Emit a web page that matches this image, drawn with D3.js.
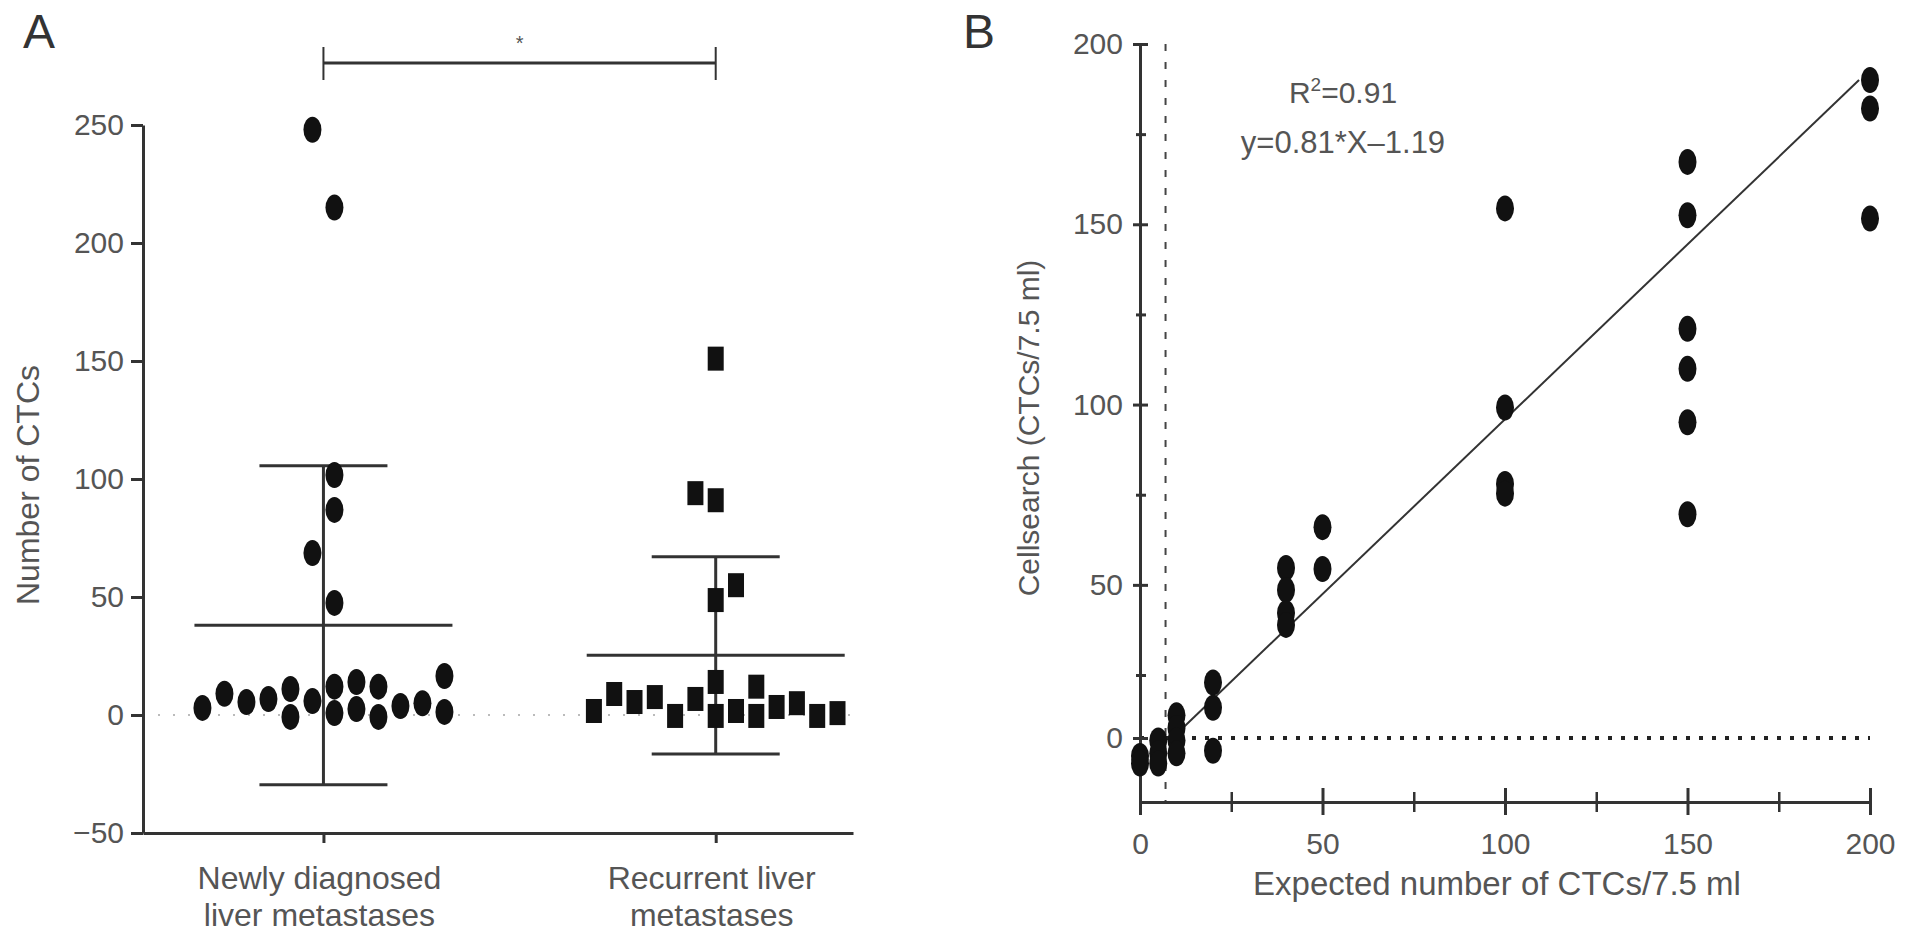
<!DOCTYPE html>
<html>
<head>
<meta charset="utf-8">
<script src="https://cdn.jsdelivr.net/npm/d3@7"></script>
<style>
body { margin: 0; background: #fff; }
text { font-family: "Liberation Sans", Arial, sans-serif; }
</style>
</head>
<body>
<script>
// ---- panel A data ----
let groupLines = [["Newly diagnosed", "liver metastases"], ["Recurrent liver", "metastases"]];
let newlyCTC = [3, 9, 5.5, 6.8, 11, -0.8, 5.9, 68.6, 248, 12, 0.8, 101.7, 86.9, 47.5, 215, 14, 2.5, 12, -0.8, 3.8, 5, 16.5, 1.3];
let newlyColumn = [0, 1, 2, 3, 4, 4, 5, 5, 5, 6, 6, 6, 6, 6, 6, 7, 7, 8, 8, 9, 10, 11, 11];
let recurrentCTC = [1.7, 8.9, 5.5, 7.6, -0.4, 6.8, 94, 14, -0.4, 151, 91, 48.7, 1.7, 55, 12, -0.4, 3.4, 5, -0.4, 0.8];
let recurrentColumn = [0, 1, 2, 3, 4, 5, 5, 6, 6, 6, 6, 6, 7, 7, 8, 8, 9, 10, 11, 12];
let yTicksA = [-50, 0, 50, 100, 150, 200, 250];

// ---- panel B data ----
let expectedCTC = [0, 0, 5, 5, 5, 10, 10, 10, 10, 20, 20, 20, 40, 40, 40, 40, 50, 50,
   100, 100, 100, 100, 150, 150, 150, 150, 150, 150, 200, 200, 200];
let cellsearchCTC = [-7, -10, -1, -6, -10, 9, 4, -1, -6, 22, 12, -5, 54.7, 48.6, 42.2, 38.9, 66, 54.4,
   154.4, 99.2, 78, 75.3, 167.3, 152.5, 121, 109.9, 95.1, 69.6, 190, 182.1, 151.6];
let fitX = [11, 197];
let fitY = [3, 190];
let cutoffX = 7;
let xTicksB = [0, 50, 100, 150, 200];
let xMinorB = [25, 75, 125, 175];
let yTicksB = [0, 50, 100, 150, 200];
let yMinorB = [25, 75, 125, 175];

let ink = "#333", labelInk = "#555";

let svg = d3.select("body").append("svg")
   .attr("width", 1913).attr("height", 940);

function styleAxis(g, w) {
   g.attr("font-size", 30).attr("font-family", null);
   g.select(".domain").attr("stroke", ink).attr("stroke-width", w);
   g.selectAll(".tick line").attr("stroke", ink).attr("stroke-width", w);
   g.selectAll(".tick text").attr("fill", labelInk);
}

// ================= panel A =================
let xA = d3.scaleLinear().domain([-0.46, 1.35]).range([143, 853]);
let yA = d3.scaleLinear().domain([-50, 250]).range([833, 125]);

svg.append("text").text("A").attr("x", 23).attr("y", 48)
   .attr("font-size", 48).attr("fill", ink);

// zero reference line
svg.append("line")
   .attr("x1", xA.range()[0]).attr("x2", xA.range()[1])
   .attr("y1", yA(0)).attr("y2", yA(0))
   .attr("stroke", "#bbb").attr("stroke-width", 2).attr("stroke-dasharray", "2,13");

svg.append("g").attr("transform", "translate(143,0)")
   .call(d3.axisLeft(yA).tickValues(yTicksA).tickSize(12).tickPadding(7).tickSizeOuter(0))
   .call(g => styleAxis(g, 3));

svg.append("g").attr("transform", "translate(0,833)")
   .call(d3.axisBottom(xA).tickValues([0, 1]).tickFormat("").tickSize(10).tickSizeOuter(0))
   .call(g => styleAxis(g, 3));

let groupLabel = svg.append("g").selectAll("text").data(groupLines);
groupLabel.enter().append("text")
   .attr("text-anchor", "middle").attr("font-size", 32).attr("fill", labelInk)
   .attr("transform", function (d, i) { return "translate(" + (xA(i) - 4) + ",889)"; })
   .selectAll("tspan").data(function (d) { return d; })
   .enter().append("tspan")
   .attr("x", 0).attr("y", function (d, j) { return j * 37; })
   .text(function (d) { return d; });

svg.append("text").text("Number of CTCs")
   .attr("transform", "translate(39,485) rotate(-90)")
   .attr("text-anchor", "middle").attr("font-size", 32).attr("fill", labelInk);

let groups = [
   { values: newlyCTC, cols: newlyColumn, step: 22 },
   { values: recurrentCTC, cols: recurrentColumn, step: 20.3 }
];

groups.forEach(function (grp, gi) {
   let nCols = d3.max(grp.cols) + 1;
   let pts = grp.values.map(function (v, i) {
      return { v: v, x: xA(gi) + (grp.cols[i] - (nCols - 1) / 2) * grp.step };
   });
   let m = d3.mean(grp.values), sd = d3.deviation(grp.values);
   let cx = xA(gi);
   let bars = svg.append("g").attr("stroke", ink).attr("stroke-width", 3);
   bars.append("line").attr("x1", cx).attr("x2", cx).attr("y1", yA(m - sd)).attr("y2", yA(m + sd));
   bars.append("line").attr("x1", cx - 129).attr("x2", cx + 129).attr("y1", yA(m)).attr("y2", yA(m));
   [m - sd, m + sd].forEach(function (e) {
      bars.append("line").attr("x1", cx - 64).attr("x2", cx + 64).attr("y1", yA(e)).attr("y2", yA(e));
   });

   let marks = svg.append("g").attr("fill", "#111");
   if (gi === 0) {
      marks.selectAll("ellipse").data(pts).enter().append("ellipse")
         .attr("cx", function (d) { return d.x; })
         .attr("cy", function (d) { return yA(d.v); })
         .attr("rx", 9).attr("ry", 13);
   } else {
      marks.selectAll("rect").data(pts).enter().append("rect")
         .attr("x", function (d) { return d.x - 8; })
         .attr("y", function (d) { return yA(d.v) - 12; })
         .attr("width", 16).attr("height", 24);
   }
});

// significance bracket
let sig = svg.append("g").attr("stroke", ink).attr("stroke-width", 3);
sig.append("line").attr("x1", xA(0)).attr("x2", xA(1)).attr("y1", 63).attr("y2", 63);
[0, 1].forEach(function (i) {
   sig.append("line").attr("x1", xA(i)).attr("x2", xA(i)).attr("y1", 47).attr("y2", 80)
      .attr("stroke-width", 2);
});
svg.append("text").text("*").attr("x", (xA(0) + xA(1)) / 2).attr("y", 50)
   .attr("text-anchor", "middle").attr("font-size", 20).attr("fill", labelInk);

// ================= panel B =================
let xB = d3.scaleLinear().domain([0, 200]).range([1140, 1870]);
let yB = d3.scaleLinear().domain([-25, 0, 25, 200]).range([802, 738, 675, 44]);

svg.append("text").text("B").attr("x", 963).attr("y", 48)
   .attr("font-size", 48).attr("fill", ink);

svg.append("line")
   .attr("x1", xB(cutoffX)).attr("x2", xB(cutoffX))
   .attr("y1", yB(200)).attr("y2", yB(-25))
   .attr("stroke", "#444").attr("stroke-width", 2).attr("stroke-dasharray", "7,11");

svg.append("line")
   .attr("x1", xB(0)).attr("x2", xB(200))
   .attr("y1", yB(0)).attr("y2", yB(0))
   .attr("stroke", "#222").attr("stroke-width", 4).attr("stroke-dasharray", "4,9");

let yAxisB = svg.append("g").attr("transform", "translate(1140,0)")
   .call(d3.axisLeft(yB).tickValues(yTicksB).tickSize(7).tickPadding(10).tickSizeOuter(0))
   .call(g => styleAxis(g, 3));
yAxisB.selectAll(".tick line").attr("x1", 8);

svg.append("g").attr("transform", "translate(1140,0)")
   .call(d3.axisLeft(yB).tickValues(yMinorB).tickFormat("").tickSize(4).tickSizeOuter(0))
   .call(g => styleAxis(g, 3))
   .call(g => g.select(".domain").remove())
   .selectAll(".tick line").attr("x1", 6);

let xAxisB = svg.append("g").attr("transform", "translate(0,802)")
   .call(d3.axisBottom(xB).tickValues(xTicksB).tickSize(13).tickPadding(18).tickSizeOuter(0))
   .call(g => styleAxis(g, 3));
xAxisB.selectAll(".tick line").attr("y1", -14);

svg.append("g").attr("transform", "translate(0,802)")
   .call(d3.axisBottom(xB).tickValues(xMinorB).tickFormat("").tickSize(10).tickSizeOuter(0))
   .call(g => styleAxis(g, 2.5))
   .call(g => g.select(".domain").remove())
   .selectAll(".tick line").attr("y1", -10);

svg.append("text").text("Expected number of CTCs/7.5 ml")
   .attr("x", xB(100) - 8).attr("y", 895)
   .attr("text-anchor", "middle").attr("font-size", 33).attr("fill", labelInk);

svg.append("text").text("Cellsearch (CTCs/7.5 ml)")
   .attr("transform", "translate(1039,428) rotate(-90)")
   .attr("text-anchor", "middle").attr("font-size", 30).attr("fill", labelInk);

// fit line
svg.append("line")
   .attr("x1", xB(fitX[0])).attr("y1", yB(fitY[0]))
   .attr("x2", xB(fitX[1])).attr("y2", yB(fitY[1]))
   .attr("stroke", ink).attr("stroke-width", 2);

svg.append("g").attr("fill", "#111").selectAll("ellipse")
   .data(expectedCTC.map(function (x, i) { return { x: x, y: cellsearchCTC[i] }; }))
   .enter().append("ellipse")
   .attr("cx", function (d) { return xB(d.x); })
   .attr("cy", function (d) { return yB(d.y); })
   .attr("rx", 9).attr("ry", 13);

let r2 = svg.append("text").attr("x", 1343).attr("y", 103)
   .attr("text-anchor", "middle").attr("font-size", 30).attr("fill", labelInk);
r2.append("tspan").text("R");
r2.append("tspan").text("2").attr("font-size", 19).attr("dy", -12);
r2.append("tspan").text("=0.91").attr("dy", 12);

svg.append("text").text("y=0.81*X\u20131.19").attr("x", 1343).attr("y", 153)
   .attr("text-anchor", "middle").attr("font-size", 31).attr("fill", labelInk);
</script>
</body>
</html>
